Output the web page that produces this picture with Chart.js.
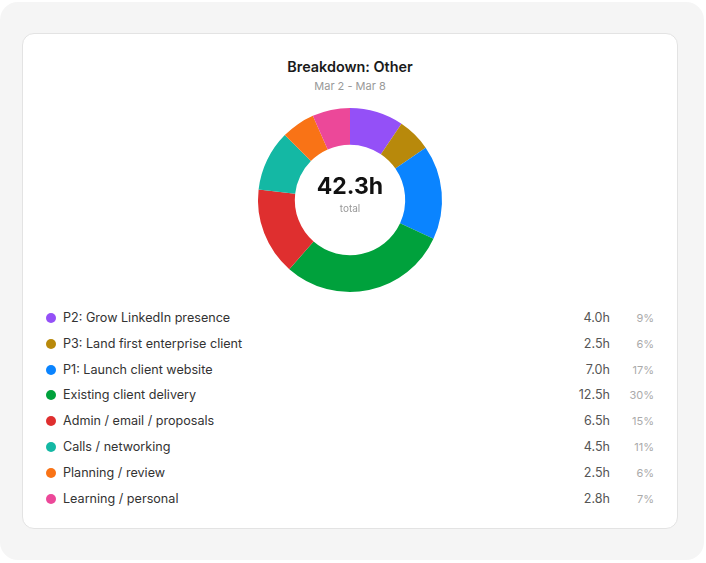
<!DOCTYPE html>
<html>
<head>
<meta charset="utf-8">
<script src="https://cdn.jsdelivr.net/npm/chart.js@4.4.1/dist/chart.umd.min.js"></script>
<style>
  html, body { margin:0; padding:0; background:#fff; }
  body { width:706px; height:563px; position:relative; font-family: Inter, "Noto Sans", sans-serif; }
  .panel { position:absolute; left:0; top:2px; width:704px; height:558px; background:#f5f5f5; border-radius:18px; }
  .card { position:absolute; left:22px; top:33px; width:654px; height:494px; background:#fff; border:1px solid #e3e3e3; border-radius:12px; }
  .titulo { position:absolute; left:0; width:100%; top:24px; text-align:center; font-size:14.4px; font-weight:600; color:#1a1a1a; }
  .sub { position:absolute; left:0; width:100%; top:45px; text-align:center; font-size:11px; color:#999; }
  #grafica-wrap { position:absolute; left:227px; top:66px; width:200px; height:200px; }
  .fila { position:absolute; left:0; width:100%; height:20px; font-size:12.6px; color:#333; }
  .fila .dot { position:absolute; left:23px; top:4px; width:10px; height:10px; border-radius:50%; }
  .fila .lbl { position:absolute; left:40px; top:1px; }
  .fila .val { position:absolute; right:67px; top:1px; color:#555; text-align:right; }
  .fila .pct { position:absolute; right:23px; top:2px; font-size:11px; color:#aaa; text-align:right; }
</style>
</head>
<body>
<div class="panel"></div>
<div class="card" id="card">
  <div class="titulo">Breakdown: Other</div>
  <div class="sub">Mar 2 - Mar 8</div>
  <div id="grafica-wrap"><canvas id="grafica"></canvas></div>
</div>
<script>
var categorias = ['P2: Grow LinkedIn presence', 'P3: Land first enterprise client', 'P1: Launch client website',
  'Existing client delivery', 'Admin / email / proposals', 'Calls / networking', 'Planning / review', 'Learning / personal'];
var horas = [4.0, 2.5, 7.0, 12.5, 6.5, 4.5, 2.5, 2.8];
var porcentajes = [9, 6, 17, 30, 15, 11, 6, 7];
var colores = ['#9450f7', '#b8890b', '#0a84ff', '#00a13c', '#df2f2f', '#14b8a4', '#f97316', '#ec4899'];
var totalTexto = '42.3h';

// lista de leyenda
var card = document.getElementById('card');
for (var i = 0; i < categorias.length; i++) {
  var fila = document.createElement('div');
  fila.className = 'fila';
  fila.style.top = (275 + i * 25.8) + 'px';
  fila.innerHTML = '<span class="dot" style="background:' + colores[i] + '"></span>' +
    '<span class="lbl">' + categorias[i] + '</span>' +
    '<span class="val">' + horas[i].toFixed(1) + 'h</span>' +
    '<span class="pct">' + porcentajes[i] + '%</span>';
  card.appendChild(fila);
}

const textoCentro = {
  id: 'textoCentro',
  afterDraw(chart) {
    var ctx = chart.ctx;
    var m = chart.getDatasetMeta(0).data[0];
    ctx.save();
    ctx.textAlign = 'center';
    ctx.textBaseline = 'middle';
    ctx.fillStyle = '#111';
    ctx.font = 'bold 23px Inter, sans-serif';
    ctx.fillText(totalTexto, m.x, m.y - 13);
    ctx.fillStyle = '#999';
    ctx.font = '10px Inter, sans-serif';
    ctx.fillText('total', m.x, m.y + 9);
    ctx.restore();
  }
};

var config = {
  type: 'doughnut',
  data: {
    labels: categorias,
    datasets: [{
      data: horas,
      backgroundColor: colores,
      borderWidth: 0
    }]
  },
  options: {
    responsive: true,
    maintainAspectRatio: false,
    animation: false,
    cutout: '60%',
    layout: { padding: 8 },
    plugins: {
      legend: { display: false },
      tooltip: { enabled: false }
    }
  },
  plugins: [textoCentro]
};
var myChart = new Chart(document.getElementById('grafica'), config);
</script>
</body>
</html>
